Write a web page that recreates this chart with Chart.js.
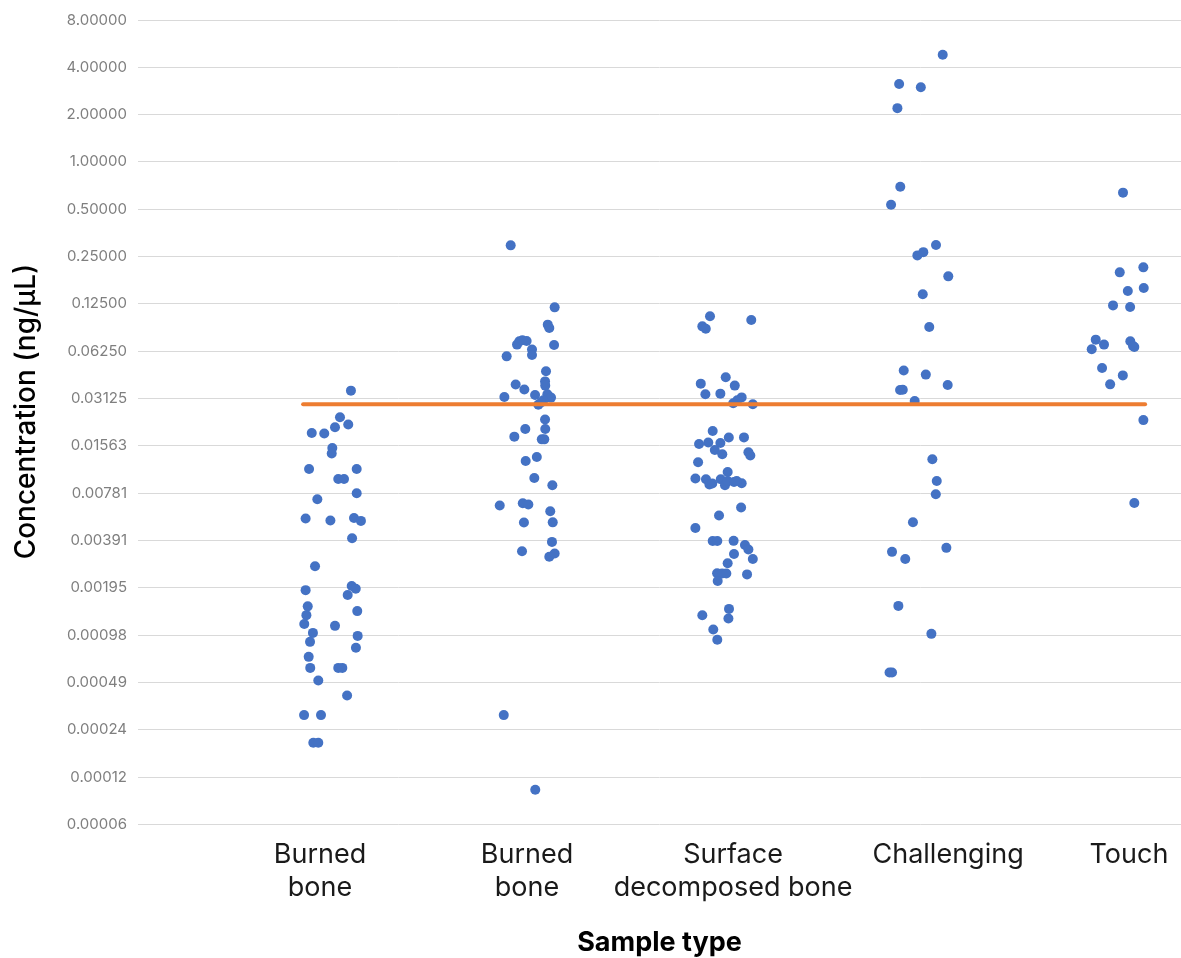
<!DOCTYPE html>
<html>
<head>
<meta charset="utf-8">
<script src="https://cdn.jsdelivr.net/npm/chart.js@4.4.0/dist/chart.umd.min.js"></script>
<style>
  body { margin: 0; background: #ffffff; }
  #chart { display: block; }
</style>
</head>
<body>
<canvas id="chart" width="1181" height="958"></canvas>
<script>
// sample types, with the x position of each label on the jitter axis
const categoryLabels = [['Burned', 'bone'], ['Burned', 'bone'], ['Surface', 'decomposed bone'], 'Challenging', 'Touch'];
const categoryPositions = [0.948, 2.026, 3.099, 4.219, 5.161];

// y ticks (log2 steps)
const yTickValues = [0.00006103515625, 0.0001220703125, 0.000244140625, 0.00048828125, 0.0009765625,
  0.001953125, 0.00390625, 0.0078125, 0.015625, 0.03125, 0.0625, 0.125, 0.25, 0.5, 1, 2, 4, 8];
const yTickLabels = ['0.00006', '0.00012', '0.00024', '0.00049', '0.00098', '0.00195', '0.00391', '0.00781',
  '0.01563', '0.03125', '0.06250', '0.12500', '0.25000', '0.50000', '1.00000', '2.00000', '4.00000', '8.00000'];

// burned bone (first group)
const burned1X = [1.109, 1.052, 1.095, 1.026, 0.905, 0.970, 1.012, 1.009, 0.891, 1.139, 1.043, 1.073, 1.139, 0.934, 0.873,
  1.002, 1.125, 1.161, 1.115, 0.922, 0.873, 1.113, 1.134, 1.092, 0.884, 0.877, 0.866, 1.142, 1.026, 0.911, 0.896, 1.144,
  1.135, 0.889, 0.897, 1.043, 1.064, 0.939, 1.089, 0.865, 0.953, 0.913, 0.939];
const burned1Y = [0.0351, 0.02377, 0.02136, 0.02053, 0.01888, 0.01872, 0.01517, 0.01397, 0.01115, 0.01115, 0.00963, 0.00963,
  0.00781, 0.00715, 0.00540, 0.00524, 0.00544, 0.00521, 0.00404, 0.00268, 0.00189, 0.00201, 0.00193, 0.00176, 0.00149,
  0.00131, 0.00115, 0.00139, 0.00112, 0.00101, 0.000886, 0.000967, 0.000812, 0.000711, 0.000605, 0.000605, 0.000605,
  0.000503, 0.000404, 0.000303, 0.000303, 0.000202, 0.000202];

// burned bone (second group)
const burned2X = [1.941, 2.170, 2.134, 2.142, 1.986, 1.974, 2.024, 2.002, 2.167, 2.052, 2.052, 1.920, 2.125, 2.120, 2.121,
  1.967, 2.012, 1.908, 2.068, 2.132, 2.151, 2.111, 2.085, 2.099, 2.120, 2.017, 2.121, 1.960, 2.103, 2.116, 2.077, 2.019,
  2.064, 2.158, 1.884, 2.004, 2.033, 2.147, 2.010, 2.160, 2.156, 2.000, 2.142, 2.170, 1.905, 2.069];
const burned2Y = [0.2949, 0.1189, 0.0923, 0.0878, 0.0723, 0.0689, 0.0726, 0.0734, 0.0685, 0.0641, 0.0592, 0.0580, 0.0466,
  0.0402, 0.0378, 0.0384, 0.0357, 0.0320, 0.0329, 0.0333, 0.0317, 0.0305, 0.0286, 0.0295, 0.0230, 0.0200, 0.0200, 0.0179,
  0.0172, 0.0172, 0.0133, 0.01253, 0.00977, 0.00878, 0.00652, 0.00675, 0.00662, 0.00600, 0.00509, 0.00510, 0.00383,
  0.00334, 0.00308, 0.00323, 0.000303, 0.0001015];

// surface decomposed bone
const surfaceX = [2.979, 2.939, 2.957, 3.194, 2.931, 3.061, 3.108, 2.955, 3.033, 3.144, 3.121, 3.100, 3.202, 2.993, 2.922,
  2.970, 3.033, 3.077, 3.156, 3.004, 3.043, 3.179, 3.189, 2.917, 3.071, 2.903, 2.958, 2.976, 2.991, 3.035, 3.057, 3.071,
  3.104, 3.144, 3.118, 3.141, 3.026, 2.903, 2.993, 3.017, 3.102, 3.161, 3.179, 3.104, 3.202, 3.071, 3.016, 3.042, 3.064,
  3.172, 3.019, 3.078, 2.939, 3.075, 2.996, 3.017];
const surfaceY = [0.1043, 0.0900, 0.0870, 0.0988, 0.0389, 0.0427, 0.0378, 0.0333, 0.0336, 0.0318, 0.0305, 0.0292, 0.0288,
  0.01945, 0.01608, 0.01641, 0.0163, 0.01766, 0.0177, 0.01472, 0.01383, 0.01424, 0.01356, 0.01230, 0.01067, 0.00969,
  0.00959, 0.00888, 0.00901, 0.00959, 0.00878, 0.00935, 0.00922, 0.00905, 0.00935, 0.00634, 0.00564, 0.00470, 0.00388,
  0.00388, 0.00389, 0.00366, 0.00343, 0.00321, 0.00298, 0.00280, 0.00242, 0.00241, 0.00241, 0.00238, 0.00216, 0.001436,
  0.001309, 0.001248, 0.001062, 0.000913];

// challenging
const challengingX = [4.191, 3.964, 4.077, 3.955, 3.970, 3.922, 4.156, 4.090, 4.059, 4.220, 4.087, 4.121, 3.988, 4.103,
  4.217, 3.969, 3.983, 4.045, 4.137, 4.160, 4.155, 4.036, 3.927, 3.996, 4.210, 3.960, 4.132, 3.914, 3.927];
const challengingY = [4.81, 3.13, 2.99, 2.20, 0.696, 0.535, 0.296, 0.267, 0.2545, 0.1872, 0.1439, 0.0891, 0.0471, 0.0444,
  0.0381, 0.0354, 0.0356, 0.0302, 0.01285, 0.00935, 0.00770, 0.00511, 0.00331, 0.00298, 0.00351, 0.00150, 0.000996,
  0.000566, 0.000566];

// touch
const touchX = [5.130, 5.236, 5.113, 5.155, 5.238, 5.078, 5.167, 4.988, 5.031, 4.967, 5.168, 5.189, 5.182, 5.021, 5.129,
  5.063, 5.236, 5.189];
const touchY = [0.638, 0.2136, 0.1985, 0.1509, 0.1578, 0.1224, 0.1194, 0.0741, 0.0689, 0.0643, 0.0723, 0.0665, 0.0675,
  0.0489, 0.0439, 0.0385, 0.0228, 0.00678];

// orange threshold line
const thresholdX = [0.86, 5.245];
const thresholdValue = 0.0288;

const BLUE = '#4472C4';
const ORANGE = '#ED7D31';
const FONT = 'Inter, "Liberation Sans", Arial, sans-serif';

function points(xs, ys) {
  return xs.map((x, i) => ({ x: x, y: ys[i] }));
}

function dotSet(label, xs, ys) {
  return {
    type: 'scatter',
    label: label,
    data: points(xs, ys),
    backgroundColor: BLUE,
    borderWidth: 0,
    pointRadius: 5,
    pointHoverRadius: 5
  };
}

const datasets = [
  {
    type: 'line',
    label: 'threshold',
    data: thresholdX.map(x => ({ x: x, y: thresholdValue })),
    borderColor: ORANGE,
    borderWidth: 4,
    borderCapStyle: 'round',
    pointRadius: 0,
    fill: false
  },
  dotSet('Burned bone', burned1X, burned1Y),
  dotSet('Burned bone 2', burned2X, burned2Y),
  dotSet('Surface decomposed bone', surfaceX, surfaceY),
  dotSet('Challenging', challengingX, challengingY),
  dotSet('Touch', touchX, touchY)
];

new Chart(document.getElementById('chart'), {
  data: { datasets: datasets },
  options: {
    responsive: false,
    animation: false,
    layout: {
      autoPadding: false,
      padding: { top: 19.5, right: 0, bottom: 0, left: 0 }
    },
    plugins: {
      legend: { display: false },
      tooltip: { enabled: false }
    },
    scales: {
      x: {
        type: 'linear',
        min: 0,
        max: 5.432,
        // tick marks are hidden but their length pushes the labels down
        grid: { display: false, drawTicks: true, tickLength: 14 },
        border: { display: false },
        afterBuildTicks: scale => {
          scale.ticks = categoryPositions.map(v => ({ value: v }));
        },
        afterFit: scale => {
          scale.height = 133.5;
          scale.paddingLeft = 0;
          scale.paddingRight = 0;
        },
        ticks: {
          autoSkip: false,
          maxRotation: 0,
          padding: 0,
          color: '#1a1a1a',
          font: { family: FONT, size: 27, lineHeight: 1.22 },
          callback: (value, index) => categoryLabels[index]
        },
        title: {
          display: true,
          text: 'Sample type',
          color: '#000000',
          font: { family: FONT, size: 27, weight: 'bold', lineHeight: 1.1 },
          padding: { top: 0, bottom: 0 }
        }
      },
      y: {
        type: 'logarithmic',
        min: 0.00006103515625,
        max: 8,
        afterBuildTicks: scale => {
          scale.ticks = yTickValues.map(v => ({ value: v }));
        },
        afterFit: scale => { scale.width = 138; },
        grid: { color: '#d9d9d9', lineWidth: 1, drawTicks: false },
        border: { display: false },
        ticks: {
          padding: 11,
          color: '#7f7f7f',
          font: { family: FONT, size: 15 },
          callback: (value, index) => yTickLabels[index]
        },
        title: {
          display: true,
          // leading spaces nudge the rotated title up a little, as in the original
          text: '\u2002 Concentration (ng/µL)',
          color: '#000000',
          font: { family: FONT, size: 28, weight: '500' },
          padding: { top: 10, bottom: 0 }
        }
      }
    }
  }
});
</script>
</body>
</html>
